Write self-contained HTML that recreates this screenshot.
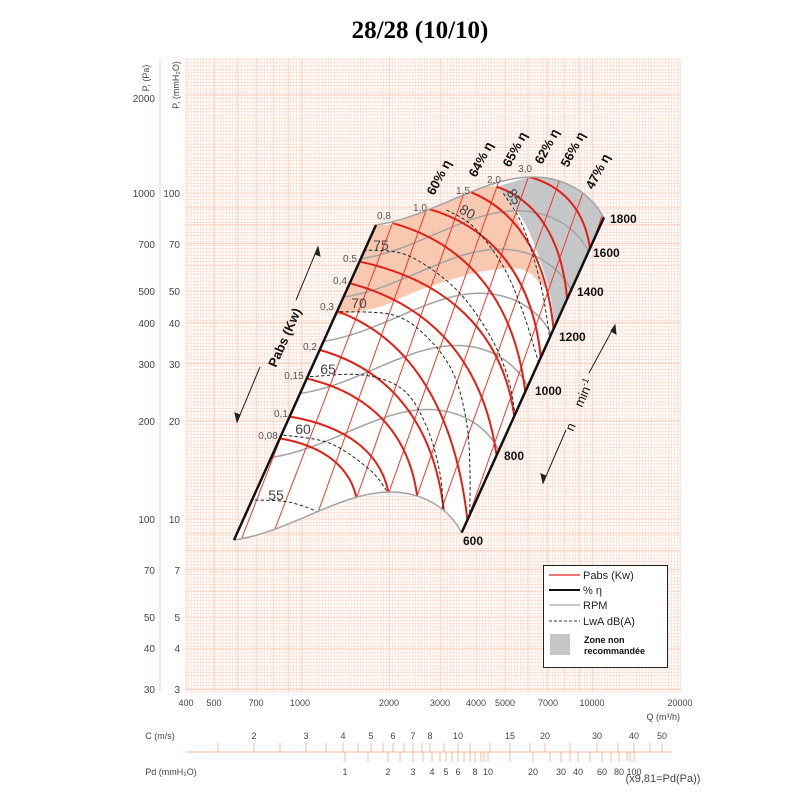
<!DOCTYPE html>
<html><head><meta charset="utf-8">
<style>
body{margin:0;background:#fff;width:800px;height:800px;overflow:hidden}
svg{display:block}
text{font-family:"Liberation Sans",sans-serif}
</style></head>
<body>
<svg id="s" width="800" height="800" viewBox="0 0 800 800" xmlns="http://www.w3.org/2000/svg">
<g id="grid"></g>
<g id="chart" transform="translate(220,140) scale(0.33333)"></g>
<g id="labels">
<text x="420" y="38" text-anchor="middle" style="font-family:'Liberation Serif',serif;font-weight:bold;font-size:25px">28/28 (10/10)</text>
<text transform="translate(149,78) rotate(-90)" text-anchor="middle" font-size="9" fill="#444">P, (Pa)</text>
<text transform="translate(179,85) rotate(-90)" text-anchor="middle" font-size="9" fill="#444">P, (mmH₂O)</text>
<g font-size="10" fill="#444" text-anchor="end">
<text x="155" y="102">2000</text><text x="155" y="197">1000</text><text x="155" y="248">700</text><text x="155" y="295">500</text><text x="155" y="327">400</text><text x="155" y="368">300</text><text x="155" y="425">200</text><text x="155" y="523">100</text><text x="155" y="574">70</text><text x="155" y="621">50</text><text x="155" y="652">40</text><text x="155" y="693">30</text>
<text x="180" y="197">100</text><text x="180" y="248">70</text><text x="180" y="295">50</text><text x="180" y="327">40</text><text x="180" y="368">30</text><text x="180" y="425">20</text><text x="180" y="523">10</text><text x="180" y="574">7</text><text x="180" y="621">5</text><text x="180" y="652">4</text><text x="180" y="693">3</text>
</g>
<g font-size="9" fill="#444" text-anchor="middle">
<text x="186" y="706">400</text><text x="214" y="706">500</text><text x="256" y="706">700</text><text x="300" y="706">1000</text><text x="389" y="706">2000</text><text x="440" y="706">3000</text><text x="476" y="706">4000</text><text x="505" y="706">5000</text><text x="548" y="706">7000</text><text x="592" y="706">10000</text><text x="680" y="706">20000</text>
<text x="680" y="720" text-anchor="end">Q (m³/h)</text>
<text x="160" y="739">C (m/s)</text>
<text x="254" y="739">2</text><text x="306" y="739">3</text><text x="343" y="739">4</text><text x="371" y="739">5</text><text x="393" y="739">6</text><text x="413" y="739">7</text><text x="430" y="739">8</text><text x="458" y="739">10</text><text x="510" y="739">15</text><text x="545" y="739">20</text><text x="597" y="739">30</text><text x="634" y="739">40</text><text x="662" y="739">50</text>
<text x="171" y="775">Pd (mmH₂O)</text>
<text x="345" y="775">1</text><text x="388" y="775">2</text><text x="413" y="775">3</text><text x="432" y="775">4</text><text x="446" y="775">5</text><text x="458" y="775">6</text><text x="475" y="775">8</text><text x="488" y="775">10</text><text x="533" y="775">20</text><text x="561" y="775">30</text><text x="578" y="775">40</text><text x="602" y="775">60</text><text x="619" y="775">80</text><text x="634" y="775">100</text>
<text x="663" y="782" font-size="11">(x9,81=Pd(Pa))</text>
</g>
<g font-size="10" fill="#555" text-anchor="middle">
<text x="384" y="219">0,8</text><text x="420" y="211">1,0</text><text x="463" y="194">1,5</text><text x="494" y="183">2,0</text><text x="525" y="172">3,0</text>
<text x="350" y="262">0,5</text><text x="340" y="284">0,4</text><text x="327" y="310">0,3</text><text x="310" y="350">0,2</text><text x="294" y="379">0,15</text><text x="281" y="417">0,1</text><text x="268" y="439">0,08</text>
</g>
<g font-size="14" fill="#444" text-anchor="middle">
<text x="276" y="500">55</text><text x="303" y="434">60</text><text x="328" y="374">65</text><text x="359" y="308">70</text><text x="381" y="250">75</text>
<text transform="translate(465,216) rotate(30)">80</text><text transform="translate(510,199) rotate(60)">85</text>
</g>
<g font-size="13" font-weight="bold" fill="#111">
<text transform="translate(434,196) rotate(-62)">60% η</text>
<text transform="translate(476,178) rotate(-62)">64% η</text>
<text transform="translate(510,168) rotate(-62)">65% η</text>
<text transform="translate(542,165) rotate(-62)">62% η</text>
<text transform="translate(568,168) rotate(-62)">56% η</text>
<text transform="translate(593,190) rotate(-62)">47% η</text>
</g>
<g font-size="12" font-weight="bold" fill="#111">
<text x="610" y="223">1800</text><text x="593" y="257">1600</text><text x="577" y="296">1400</text><text x="559" y="341">1200</text><text x="535" y="395">1000</text><text x="504" y="460">800</text><text x="463" y="545">600</text>
<text transform="translate(276,368) rotate(-66)" font-size="13">Pabs (Kw)</text>
<text transform="translate(573,432) rotate(-66)" font-weight="normal" font-size="13">n</text>
<text transform="translate(582,408) rotate(-66)" font-weight="normal" font-size="13">min<tspan dy="-5" font-size="9">-1</tspan></text>
</g>
<g stroke="#222" stroke-width="1" fill="#222">
<line x1="237" y1="422" x2="260" y2="367"/><line x1="296" y1="300" x2="318" y2="247"/>
<polygon points="237,422 235,413 240,415"/><polygon points="318,247 320,256 315,254"/>
<line x1="543" y1="483" x2="566" y2="430"/><line x1="589" y1="373" x2="615" y2="325"/>
<polygon points="543,483 541,474 546,476"/><polygon points="615,325 616,334 611,331"/>
</g>
<rect x="543.5" y="565.5" width="124" height="102" fill="#fff" stroke="#222"/>
<line x1="549" y1="575" x2="580" y2="575" stroke="#e8251d" stroke-width="1.2"/>
<line x1="549" y1="590" x2="580" y2="590" stroke="#111" stroke-width="2"/>
<line x1="549" y1="605" x2="580" y2="605" stroke="#aaa" stroke-width="1.2"/>
<line x1="549" y1="621" x2="580" y2="621" stroke="#333" stroke-width="1" stroke-dasharray="3,2"/>
<g font-size="11" fill="#222"><text x="583" y="579">Pabs (Kw)</text><text x="583" y="594">% η</text><text x="583" y="609">RPM</text><text x="583" y="625">LwA dB(A)</text></g>
<rect x="550" y="634" width="20" height="21" fill="#c5c6c8"/>
<text x="584" y="643" font-size="9" font-weight="bold" fill="#111">Zone non</text>
<text x="584" y="654" font-size="9" font-weight="bold" fill="#111">recommandée</text>
</g>
</svg>
<script>
var NS="http://www.w3.org/2000/svg";
function el(p,t,a){var e=document.createElementNS(NS,t);for(var k in a)e.setAttribute(k,a[k]);p.appendChild(e);return e;}
var g=document.getElementById('grid');
var X0=186,X1=680,Y0=58,Y1=692,XD=290.8,YD=326;
function xq(q){return X0+XD*Math.log10(q/400);}
function ym(m){return 193-YD*Math.log10(m/100);}
el(g,'rect',{x:X0,y:Y0,width:X1-X0,height:Y1-Y0,fill:'#fff'});
var d1='',d2='';
for(var i=0;i<=170;i++){var x=X0+i*XD/100;if(x>X1)break;d1+='M'+x.toFixed(1)+' '+Y0+'V'+Y1;}
for(var i=0;i<=200;i++){var y=Y1-i*YD/100;if(y<Y0)break;d1+='M'+X0+' '+y.toFixed(1)+'H'+X1;}
[100,1000,10000].forEach(function(b){for(var k=1;k<10;k++){var q=b*k;if(q<400||q>20000)continue;var x=xq(q);d2+='M'+x.toFixed(1)+' '+Y0+'V'+Y1;}});
[1,10,100].forEach(function(b){for(var k=1;k<10;k++){var m=b*k;if(m<3||m>260)continue;var y=ym(m);d2+='M'+X0+' '+y.toFixed(1)+'H'+X1;}});
d2+='M'+X0+' '+Y0+'V'+Y1;
el(g,'path',{d:d1,stroke:'#fcd8c8',"stroke-width":0.6,fill:'none'});
el(g,'path',{d:d2,stroke:'#f9cdb8',"stroke-width":0.7,fill:'none'});
el(g,'line',{x1:160,y1:58,x2:160,y2:692,stroke:'#fbd2bf',"stroke-width":1});
var sc='M186 752H672';
[254,306,343,371,393,413,430,458,510,545,597,634,662,218,280,326,358,383,404,422,444,470,490,530,570,618,650].forEach(function(x){sc+='M'+x+' 752V743';});
[345,388,413,432,446,458,475,488,533,561,578,602,619,634,368,400,423,440,452,464,470,481,484,510,550,570,590,611,627,630].forEach(function(x){sc+='M'+x+' 752V762';});
el(g,'path',{d:sc,stroke:'#f6b79c',"stroke-width":1,fill:'none'});

var c=document.getElementById('chart');
function cr(pts){var d='M'+pts[0][0]+' '+pts[0][1];for(var i=0;i<pts.length-1;i++){var p0=pts[i-1]||pts[i],p1=pts[i],p2=pts[i+1],p3=pts[i+2]||p2;d+='C'+(p1[0]+(p2[0]-p0[0])/6)+' '+(p1[1]+(p2[1]-p0[1])/6)+' '+(p2[0]-(p3[0]-p1[0])/6)+' '+(p2[1]-(p3[1]-p1[1])/6)+' '+p2[0]+' '+p2[1];}return d;}
function base(dx,dy){function P(x,y){return (x+dx)+' '+(y+dy);}return 'M'+P(42,1200)+'C'+P(210,1176)+' '+P(360,1056)+' '+P(510,1056)+'C'+P(615,1056)+' '+P(690,1110)+' '+P(725,1178);}
var clipD=base(0,0)+'L1151 233C1116 165 1041 111 936 111C786 111 636 231 468 255Z';
var defs=el(c,'defs',{});var cp=el(defs,'clipPath',{id:'cp'});el(cp,'path',{d:clipD});
el(c,'path',{d:clipD,fill:'#fff'});
var cg=el(c,'g',{"clip-path":'url(#cp)'});
el(cg,'path',{d:cr([[468,255],[520,250],[620,205],[735,160],[830,140],[880,210],[930,330],[975,440],[930,400],[880,385],[760,400],[600,450],[480,500],[345,530],[300,560],[420,300]])+'Z',fill:'#f8c9b0'});
el(cg,'path',{d:cr([[830,140],[960,105],[1050,112],[1120,160],[1152,232]])+'L1003 560'+cr([[1003,560],[990,460],[960,360],[920,260],[880,200],[830,140]]).replace(/^M[^C]*/,''),fill:'#c5c6c8'});
var D=[426,-945];
[0.262,0.465,0.631,0.771,0.893].forEach(function(t){el(cg,'path',{d:base(D[0]*t,D[1]*t),stroke:'#a3a3a3',"stroke-width":4.5,fill:'none'});});
var tl=[[129,575],[243,658],[344,753],[435,845],[524,929],[610,1026],[700,1109],[790,1190],[880,1270],[40,490]];
tl.forEach(function(p){el(cg,'line',{x1:p[0],y1:1260,x2:p[1],y2:100,stroke:'#ee3a2a',"stroke-width":3});});
var arcs=[[[180,895],[410,1080]],[[210,830],[505,1060]],[[258,715],[590,1065]],[[300,630],[670,1110]],[[355,515],[745,1180]],[[390,430],[830,960]],[[420,365],[880,820]],[[520,250],[915,760]],[[620,205],[960,640]],[[735,150],[1000,570]],[[830,140],[1040,470]],[[925,110],[1110,330]]];
arcs.forEach(function(a){var S=a[0],E=a[1],dx=E[0]-S[0],dy=E[1]-S[1];
var d='M'+S[0]+' '+S[1]+'C'+(S[0]+0.55*dx)+' '+(S[1]+0.12*dy)+' '+(E[0]-0.06*dx)+' '+(E[1]-0.55*dy)+' '+(E[0]+0.01*dx)+' '+(E[1]+0.05*dy);
el(cg,'path',{d:d,stroke:'#e41e14',"stroke-width":6,fill:'none'});});
var dash=[[[105,1080],[200,1085],[280,1110],[300,1130]],[[190,885],[330,910],[450,990],[505,1060]],[[270,710],[430,705],[550,750],[620,860],[660,1000],[670,1115]],[[360,515],[520,525],[620,590],[700,700],[740,850],[750,1000],[748,1180]],[[430,330],[560,345],[700,440],[800,570],[860,700],[885,820]],[[680,210],[760,260],[850,380],[910,520],[955,665]],[[850,160],[900,240],[940,350],[970,470],[990,600]]];
dash.forEach(function(p){el(cg,'path',{d:cr(p),stroke:'#222',"stroke-width":3,"stroke-dasharray":'10 7',fill:'none'});});
el(c,'path',{d:base(0,0),stroke:'#a3a3a3',"stroke-width":4.5,fill:'none'});
el(c,'path',{d:'M1151 233C1116 165 1041 111 936 111C786 111 636 231 468 255',stroke:'#a3a3a3',"stroke-width":4.5,fill:'none'});
el(c,'line',{x1:42,y1:1200,x2:468,y2:255,stroke:'#111',"stroke-width":7.5});
el(c,'line',{x1:725,y1:1178,x2:1152,y2:232,stroke:'#111',"stroke-width":7.5});
</script>
</body></html>
